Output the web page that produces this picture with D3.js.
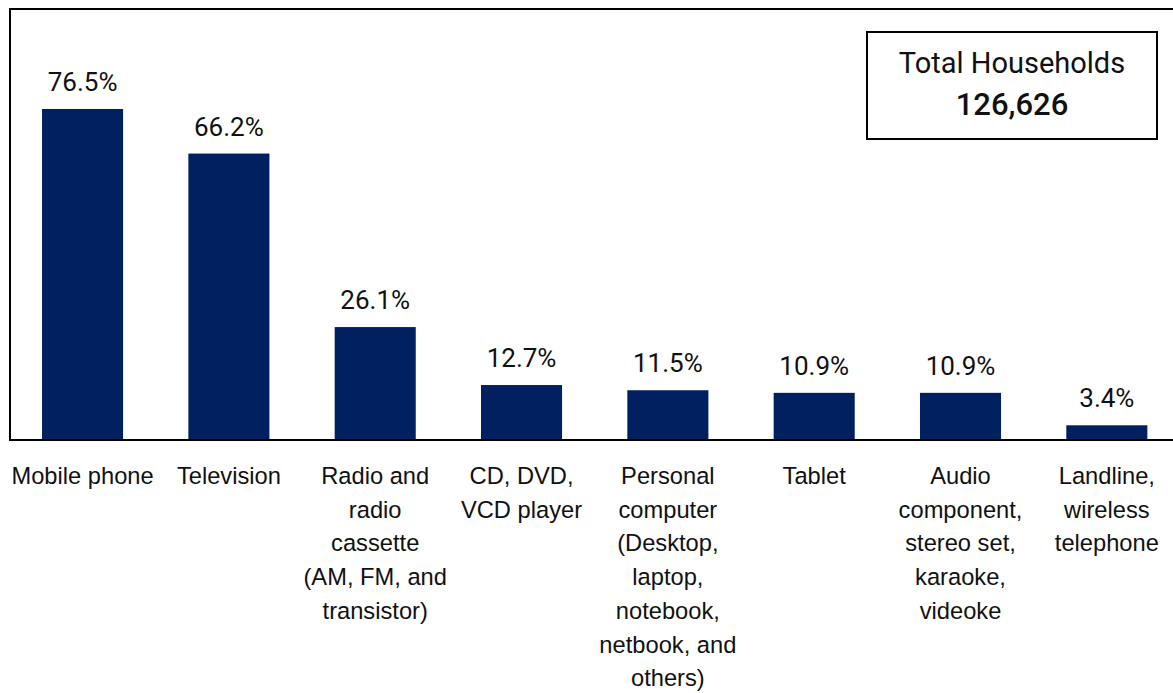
<!DOCTYPE html>
<html>
<head>
<meta charset="utf-8">
<script src="https://cdn.jsdelivr.net/npm/d3@7"></script>
<style>
  body { margin: 0; background: #fff; }
  svg { display: block; }
</style>
</head>
<body>
<div id="chart"></div>
<script>
// categories, split into the lines shown under each bar
var categories = ["Mobile phone", "Television", "Radio and radio cassette", "CD, DVD, VCD player",
                  "Personal computer", "Tablet", "Audio component", "Landline, wireless telephone"];
var labelLines = [
  ["Mobile phone"],
  ["Television"],
  ["Radio and", "radio", "cassette", "(AM, FM, and", "transistor)"],
  ["CD, DVD,", "VCD player"],
  ["Personal", "computer", "(Desktop,", "laptop,", "notebook,", "netbook, and", "others)"],
  ["Tablet"],
  ["Audio", "component,", "stereo set,", "karaoke,", "videoke"],
  ["Landline,", "wireless", "telephone"]
];
var values = [76.5, 66.2, 26.1, 12.7, 11.5, 10.9, 10.9, 3.4];
var totalLabel = "Total Households";
var totalValue = "126,626";

var width = 1173, height = 693;
var baseY = 440, topY = 7.3;

var svg = d3.select("#chart").append("svg")
    .attr("width", width)
    .attr("height", height);

var x = d3.scaleBand()
    .domain(categories)
    .range([9.4, 1180])
    .paddingInner(0.446)
    .paddingOuter(0.223);

var y = d3.scaleLinear()
    .domain([0, 100])
    .range([baseY, topY]);

// plot frame
svg.append("rect")
    .attr("x", 10)
    .attr("y", 9)
    .attr("width", 1180)
    .attr("height", baseY - 9)
    .attr("fill", "none")
    .attr("stroke", "#000")
    .attr("stroke-width", 2);

svg.selectAll(".bar")
    .data(values)
    .enter().append("rect")
    .attr("class", "bar")
    .attr("x", function(d, i) { return x(categories[i]); })
    .attr("y", function(d) { return y(d); })
    .attr("width", x.bandwidth())
    .attr("height", function(d) { return baseY - y(d); })
    .attr("fill", "#002060");

// baseline on top of bars
svg.append("line")
    .attr("x1", 10).attr("x2", width)
    .attr("y1", baseY).attr("y2", baseY)
    .attr("stroke", "#000")
    .attr("stroke-width", 2);

svg.selectAll(".val")
    .data(values)
    .enter().append("text")
    .attr("class", "val")
    .attr("x", function(d, i) { return x(categories[i]) + x.bandwidth() / 2; })
    .attr("y", function(d) { return y(d) - 18; })
    .attr("text-anchor", "middle")
    .style("font-family", "Roboto, sans-serif")
    .style("font-size", "26px")
    .style("font-weight", 400)
    .style("fill", "#111")
    .text(function(d) { return d.toFixed(1) + "%"; });

var cat = svg.selectAll(".cat")
    .data(labelLines)
    .enter().append("text")
    .attr("class", "cat")
    .attr("text-anchor", "middle")
    .style("font-family", "'Liberation Sans', Arial, sans-serif")
    .style("font-size", "23.7px")
    .style("fill", "#111");

cat.selectAll("tspan")
    .data(function(d, i) { return d.map(function(t) { return { t: t, i: i }; }); })
    .enter().append("tspan")
    .attr("x", function(d) { return x(categories[d.i]) + x.bandwidth() / 2; })
    .attr("y", function(d, j) { return 484 + j * 33.7; })
    .text(function(d) { return d.t; });

// total households box
var box = svg.append("g");
box.append("rect")
    .attr("x", 867)
    .attr("y", 32)
    .attr("width", 290)
    .attr("height", 107)
    .attr("fill", "#fff")
    .attr("stroke", "#000")
    .attr("stroke-width", 2);
box.append("text")
    .attr("x", 1012)
    .attr("y", 73)
    .attr("text-anchor", "middle")
    .style("font-family", "Roboto, sans-serif")
    .style("font-size", "29px")
    .style("font-weight", 400)
    .style("fill", "#111")
    .text(totalLabel);
box.append("text")
    .attr("x", 1012)
    .attr("y", 115)
    .attr("text-anchor", "middle")
    .style("font-family", "Roboto, sans-serif")
    .style("font-size", "31px")
    .style("font-weight", 500)
    .style("fill", "#111")
    .text(totalValue);
</script>
</body>
</html>
